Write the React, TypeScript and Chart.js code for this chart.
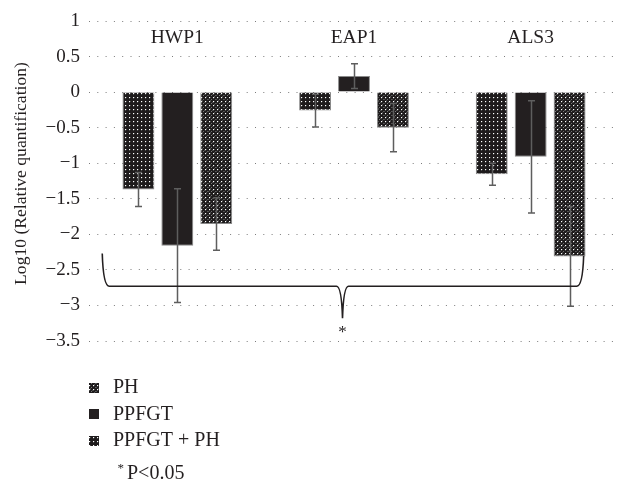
import React, { useEffect, useRef } from "react";
import { Chart, registerables } from "chart.js";

Chart.register(...registerables);

// Genes measured and treatment groups
const genes = ["HWP1", "EAP1", "ALS3"];
const seriesNames = ["PH", "PPFGT", "PPFGT + PH"];

// Mean log10 relative quantification per gene
const phMean = [-1.37, -0.26, -1.155];
const ppfgtMean = [-2.16, 0.225, -0.91];
const comboMean = [-1.855, -0.5, -2.31];

// Standard deviation per gene
const phErr = [0.24, 0.23, 0.155];
const ppfgtErr = [0.8, 0.175, 0.79];
const comboErr = [0.37, 0.34, 0.7];

// Value axis range
const yMin = -3.5;
const yMax = 1;
const yStep = 0.5;

const yTitle = "Log10 (Relative quantification)";
const significanceNote = "P<0.05";

const INK = "#231f20";
const FONT = "'Liberation Serif', 'Times New Roman', serif";

function makePattern(kind: "dots" | "speckle" | "solid"): CanvasPattern | string {
  if (kind === "solid") return INK;
  const c = document.createElement("canvas");
  c.width = 8;
  c.height = 8;
  const g = c.getContext("2d")!;
  g.fillStyle = "#1e1b1c";
  g.fillRect(0, 0, 8, 8);
  if (kind === "speckle") {
    const greys: [number, number, string][] = [
      [3, 3, "#6e6e6e"], [7, 7, "#5a5a5a"], [3, 7, "#7a7a7a"], [7, 3, "#555"],
      [0, 3, "#4a4a4a"], [4, 6, "#4e4e4e"], [6, 0, "#505050"], [2, 4, "#474747"],
      [5, 2, "#444"], [0, 7, "#4b4b4b"],
    ];
    greys.forEach(([x, y, col]) => {
      g.fillStyle = col;
      g.fillRect(x, y, 1, 1);
    });
  }
  const dots = [[1, 1], [5, 1], [1, 5], [5, 5]];
  dots.forEach(([x, y]) => {
    g.fillStyle = "#4a4a4a";
    g.fillRect(x + 1, y, 1, 1);
    g.fillRect(x, y + 1, 1, 1);
    g.fillStyle = "#ffffff";
    g.fillRect(x, y, 1, 1);
  });
  return g.createPattern(c, "repeat")!;
}

function fmtTick(v: number): string {
  if (Math.abs(v) < 1e-9) return "0";
  const s = String(Math.abs(v));
  return v < 0 ? "\u2212" + s : s;
}

const errorLists = [phErr, ppfgtErr, comboErr];

const errorBarPlugin = {
  id: "errorBars",
  afterDatasetsDraw(chart: any) {
    const { ctx } = chart;
    const y = chart.scales.y;
    ctx.save();
    ctx.strokeStyle = "#5e5e5e";
    ctx.lineWidth = 1.5;
    chart.data.datasets.forEach((ds: any, di: number) => {
      const meta = chart.getDatasetMeta(di);
      meta.data.forEach((bar: any, i: number) => {
        const v = ds.data[i] as number;
        const e = errorLists[di][i];
        const x = Math.round(bar.x) + 0.5;
        const y1 = y.getPixelForValue(v + e);
        const y2 = y.getPixelForValue(v - e);
        ctx.beginPath();
        ctx.moveTo(x, y1);
        ctx.lineTo(x, y2);
        ctx.moveTo(x - 3.5, y1);
        ctx.lineTo(x + 3.5, y1);
        ctx.moveTo(x - 3.5, y2);
        ctx.lineTo(x + 3.5, y2);
        ctx.stroke();
      });
    });
    ctx.restore();
  },
};

const annotationPlugin = {
  id: "annotations",
  afterDraw(chart: any) {
    const { ctx } = chart;
    const xs = chart.scales.x;
    const ys = chart.scales.y;
    ctx.save();
    ctx.fillStyle = INK;

    // rotated value-axis title
    ctx.save();
    ctx.translate(21, 173.5);
    ctx.rotate(-Math.PI / 2);
    ctx.font = `17.6px ${FONT}`;
    ctx.textAlign = "center";
    ctx.textBaseline = "middle";
    ctx.fillText(yTitle, 0, 0);
    ctx.restore();

    // gene names above each group
    ctx.font = `19.5px ${FONT}`;
    ctx.textAlign = "center";
    ctx.textBaseline = "middle";
    genes.forEach((g, i) => {
      ctx.fillText(g, xs.getPixelForValue(i), ys.getPixelForValue(0.765));
    });

    // curly brace grouping the significant reductions
    const xL = xs.getPixelForValue(-0.425);
    const xT = xs.getPixelForValue(0.935);
    const xR = xs.getPixelForValue(2.3);
    const yL = ys.getPixelForValue(-2.27);
    const yR = ys.getPixelForValue(-2.3);
    const yLine = ys.getPixelForValue(-2.73);
    const yTip = ys.getPixelForValue(-3.18);
    ctx.strokeStyle = INK;
    ctx.lineWidth = 1.6;
    ctx.beginPath();
    ctx.moveTo(xL, yL);
    ctx.quadraticCurveTo(xL + 1, yLine, xL + 7, yLine);
    ctx.lineTo(xT - 6, yLine);
    ctx.quadraticCurveTo(xT - 1, yLine, xT, yTip);
    ctx.quadraticCurveTo(xT + 1, yLine, xT + 6, yLine);
    ctx.lineTo(xR - 7, yLine);
    ctx.quadraticCurveTo(xR - 1, yLine, xR, yR);
    ctx.stroke();

    ctx.font = `17px ${FONT}`;
    ctx.textBaseline = "alphabetic";
    ctx.fillText("*", xT, yTip + 19);

    // legend
    const swatches = [makePattern("speckle"), makePattern("solid"), makePattern("dots")];
    ctx.textAlign = "left";
    ctx.textBaseline = "middle";
    ctx.font = `20px ${FONT}`;
    seriesNames.forEach((name, i) => {
      const cy = 387.5 + i * 26.8;
      ctx.fillStyle = swatches[i] as any;
      ctx.fillRect(89, Math.round(cy - 5), 10, 10);
      ctx.fillStyle = INK;
      ctx.fillText(name, 113, cy);
    });
    ctx.font = `13px ${FONT}`;
    ctx.fillText("*", 117.5, 469);
    ctx.font = `20px ${FONT}`;
    ctx.fillText(significanceNote, 127, 474);
    ctx.restore();
  },
};

export default function App() {
  const ref = useRef<HTMLCanvasElement | null>(null);

  useEffect(() => {
    if (!ref.current) return;
    const fills = [makePattern("dots"), makePattern("solid"), makePattern("speckle")];
    const means = [phMean, ppfgtMean, comboMean];
    const chart = new Chart(ref.current, {
      type: "bar",
      data: {
        labels: genes,
        datasets: seriesNames.map((name, i) => ({
          label: name,
          data: means[i],
          backgroundColor: fills[i] as any,
          borderColor: "#8a8a8a",
          borderWidth: 1,
          barPercentage: 0.82,
          categoryPercentage: 0.661,
        })),
      },
      options: {
        animation: false,
        responsive: true,
        maintainAspectRatio: false,
        layout: { padding: { top: 21, bottom: 143, left: 0, right: 0 } },
        plugins: {
          legend: { display: false },
          tooltip: { enabled: false },
        },
        scales: {
          x: { display: false },
          y: {
            min: yMin,
            max: yMax,
            afterFit: (s: any) => {
              s.width = 89;
            },
            ticks: {
              stepSize: yStep,
              padding: 9,
              color: INK,
              font: { family: FONT, size: 19 },
              callback: (v: any) => fmtTick(Number(v)),
            },
            grid: { color: "#7c7c7c", lineWidth: 1, drawTicks: false },
            border: { display: false, dash: [1, 7.3] },
            title: { display: false },
          },
        },
      },
      plugins: [errorBarPlugin, annotationPlugin],
    });
    return () => chart.destroy();
  }, []);

  return (
    <div style={{ position: "absolute", left: 0, top: 0, width: 619, height: 484, background: "#fff" }}>
      <canvas ref={ref} />
    </div>
  );
}
